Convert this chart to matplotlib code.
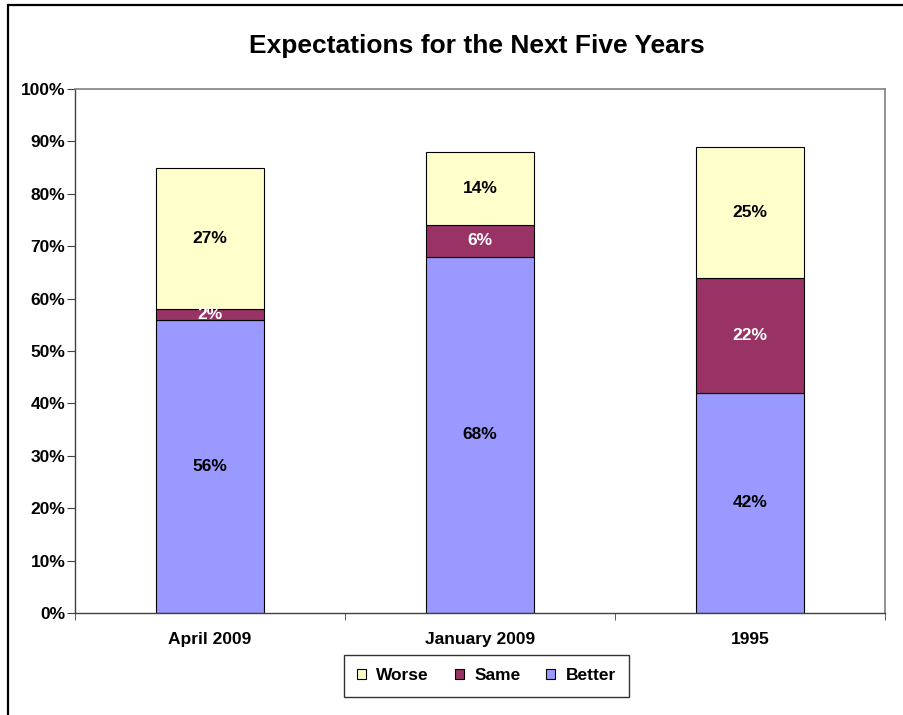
import numpy as np
import matplotlib.pyplot as plt
from matplotlib.patches import Patch, Rectangle

plt.rcParams['font.family'] = ['Liberation Sans', 'DejaVu Sans']
plt.rcParams['font.weight'] = 'bold'

# survey periods and answer shares (%)
periods = ['April 2009', 'January 2009', '1995']
better = [56, 68, 42]
same = [2, 6, 22]
worse = [27, 14, 25]
yticks = [0, 10, 20, 30, 40, 50, 60, 70, 80, 90, 100]

c_better = '#9999FF'
c_same = '#993366'
c_worse = '#FFFFCC'

fig = plt.figure(figsize=(9.04, 7.15), dpi=100)
ax = fig.add_axes([75/904, 1-613/715, 810/904, 524/715])

x = np.arange(len(periods))
w = 0.4
b1 = ax.bar(x, better, w, color=c_better, edgecolor='black', linewidth=0.8)
b2 = ax.bar(x, same, w, bottom=better, color=c_same, edgecolor='black', linewidth=0.8)
bot3 = np.array(better) + np.array(same)
b3 = ax.bar(x, worse, w, bottom=bot3, color=c_worse, edgecolor='black', linewidth=0.8)

# labels in the middle of each segment
for i in range(len(periods)):
    ax.text(x[i], better[i]/2, '%d%%' % better[i], ha='center', va='center', fontsize=12.5, color='black')
    ax.text(x[i], better[i] + same[i]/2, '%d%%' % same[i], ha='center', va='center', fontsize=12.5, color='white')
    ax.text(x[i], bot3[i] + worse[i]/2, '%d%%' % worse[i], ha='center', va='center', fontsize=12.5, color='black')

ax.set_xlim(-0.5, len(periods)-0.5)
ax.set_ylim(0, 100)
ax.set_yticks(yticks)
ax.set_yticklabels(['%d%%' % v for v in yticks], fontsize=12.5)
ax.set_xticks(x)
ax.set_xticklabels(periods, fontsize=12.5)
ax.set_xticks(np.arange(len(periods)+1) - 0.5, minor=True)
ax.tick_params(axis='x', which='major', length=0, pad=14)
ax.tick_params(axis='x', which='minor', length=5, direction='out', color='#404040')
ax.tick_params(axis='y', length=6, direction='out', color='#404040', pad=1)

for s in ['top', 'right']:
    ax.spines[s].set_color('#808080')
    ax.spines[s].set_linewidth(1.2)
for s in ['left', 'bottom']:
    ax.spines[s].set_color('#404040')
    ax.spines[s].set_linewidth(1.0)

fig.text(0.528, 1-46/715, 'Expectations for the Next Five Years', ha='center', va='center', fontsize=19)

handles = [Patch(facecolor=c_worse, edgecolor='black', linewidth=0.8),
           Patch(facecolor=c_same, edgecolor='black', linewidth=0.8),
           Patch(facecolor=c_better, edgecolor='black', linewidth=0.8)]
leg = fig.legend(handles, ['Worse', 'Same', 'Better'], loc='center', ncol=3,
                 bbox_to_anchor=(486.5/904, 1-676/715), fontsize=12.5, frameon=True,
                 fancybox=False, edgecolor='black', handlelength=0.5, handleheight=0.5,
                 handletextpad=0.6, columnspacing=1.5, borderpad=0.75, borderaxespad=0)
leg.get_frame().set_linewidth(1.0)

# outer chart border
fig.patches.append(Rectangle((8/904, -0.1), 1.2, 1-5/715+0.1, transform=fig.transFigure,
                             fill=False, edgecolor='black', linewidth=1.6))

fig.savefig('out.png', dpi=100)
